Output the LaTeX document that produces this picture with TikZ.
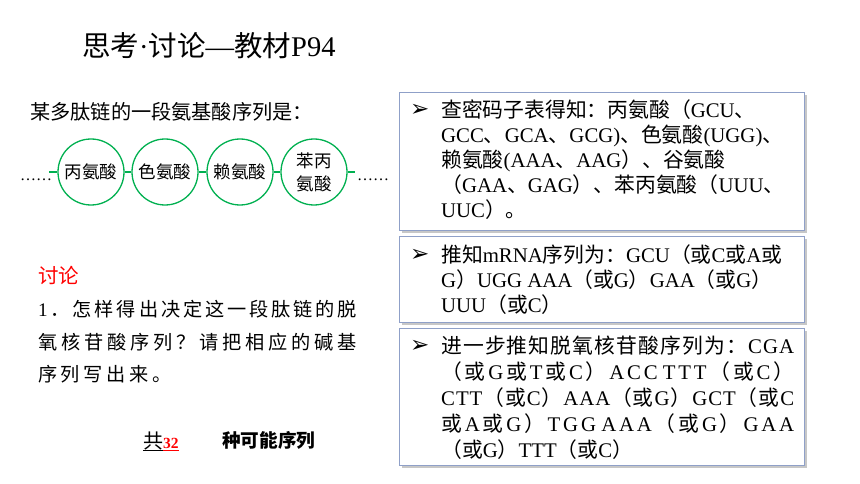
\documentclass[tikz,border=0pt]{standalone}
\usepackage{fontspec}
\setmainfont{Liberation Serif}
\newfontfamily\zh{Noto Sans CJK SC}
\newfontfamily\dv{DejaVu Sans}
\usetikzlibrary{shadows}
\definecolor{pgreen}{RGB}{0,176,80}
\definecolor{bordc}{RGB}{143,160,200}
% automatic CJK font switching
\XeTeXinterchartokenstate=1
\newXeTeXintercharclass\zhcls
\newcount\cc
\cc="3000 \loop \XeTeXcharclass\cc=\zhcls \ifnum\cc<"303F \advance\cc by 1 \repeat
\cc="4E00 \loop \XeTeXcharclass\cc=\zhcls \ifnum\cc<"9FFF \advance\cc by 1 \repeat
\cc="FF00 \loop \XeTeXcharclass\cc=\zhcls \ifnum\cc<"FFEF \advance\cc by 1 \repeat
\def\zhglue{}
\def\mainf{\rmfamily}
\XeTeXinterchartoks 0 \zhcls = {\zhglue\zh}
\XeTeXinterchartoks 4095 \zhcls = {\zh}
\XeTeXinterchartoks \zhcls 0 = {\mainf\zhglue}
\XeTeXinterchartoks \zhcls 4095 = {\mainf}
\XeTeXinterchartoks \zhcls \zhcls = {\zhglue}
\XeTeXinterchartoks 0 0 = {\zhglue}
\newcommand\fs[2]{\fontsize{#1}{#2}\selectfont}
\newcommand\jl[1]{\hbox to 353pt{\def\zhglue{\hskip 0pt plus 1fil}#1}}
\newcommand\ql[1]{\hbox to 319pt{\def\zhglue{\hskip 0pt plus 1fil}#1}}
\tikzset{
  ring/.style={circle, draw=pgreen, line width=1.3pt, minimum size=66pt, inner sep=0pt, font=\fs{17.5}{23}, align=center},
  link/.style={draw=pgreen, line width=1.3pt},
  txt/.style={anchor=base west, inner sep=0pt},
  boxst/.style={rectangle, draw=bordc, line width=1.1pt, fill=white, inner sep=0pt, anchor=north west,
    drop shadow={shadow xshift=2pt, shadow yshift=-2pt, fill=black, opacity=0.22}},
  bul/.style={anchor=base west, inner sep=0pt, font=\dv\fs{23}{24}},
  boxtxt/.style={anchor=base west, inner sep=0pt, font=\fs{20.8}{25}}
}
\begin{document}
\begin{tikzpicture}[x=1pt,y=1pt]
\fill[white] (0,0) rectangle (860,-484);
\useasboundingbox (0,0) rectangle (860,-484);
% title
\node[txt, font=\fs{28.5}{32}] (title) at (82,-57) {思考·讨论—教材P94};
\node[txt, font=\fs{20.2}{24}] (intro) at (30,-120) {某多肽链的一段氨基酸序列是：};
% chain
\node[ring] (c1) at (91,-172) {丙氨酸};
\node[ring] (c2) at (165,-172) {色氨酸};
\node[ring] (c3) at (240,-172) {赖氨酸};
\node[ring] (c4) at (314,-172) {苯丙\\氨酸};
\coordinate (sl) at (49,-172);
\coordinate (sr) at (355,-172);
\draw[link] (sl) -- (c1.west);
\draw[link] (c1.east) -- (c2.west);
\draw[link] (c2.east) -- (c3.west);
\draw[link] (c3.east) -- (c4.west);
\draw[link] (c4.east) -- (sr);
\node[txt, font=\fs{16}{18}] (dl) at (20,-181) {……};
\node[txt, font=\fs{16}{18}] (dr) at (357,-181) {……};
% discussion
\node[txt, text=red, font=\fs{20.5}{24}] (disc) at (38,-283) {讨论};
\node[txt, font=\fs{19.2}{32.5}] (q) at (38,-316.5) {\vtop{\ql{1．怎样得出决定这一段肽链的脱}\ql{氧核苷酸序列？请把相应的碱基}\hbox{\def\zhglue{\hskip 3.6pt}序列写出来。}}};
\node[txt, font=\fs{20}{24}] (gong) at (143,-448.5) {共};
\node[txt, font=\fs{15.5}{16}\bfseries, text=red] (n32) at (163,-448.5) {32};
\draw[line width=0.8pt] (gong.base west) ++(0,-1.5) -- ++(20,0);
\draw[red, line width=0.8pt] (n32.base west) ++(0,-1.5) -- ++(16,0);
\node[txt, font=\fs{18.6}{22}\bfseries] (kinds) at (222,-447) {种可能序列};
% boxes
\node[boxst, minimum width=405pt, minimum height=138pt] (b1) at (399,-92) {};
\node[boxst, minimum width=405pt, minimum height=86pt] (b2) at (399,-236) {};
\node[boxst, minimum width=405pt, minimum height=137pt] (b3) at (399,-328) {};
\node[bul] (k1) at (410,-117) {➢};
\node[bul] (k2) at (410,-261) {➢};
\node[bul] (k3) at (410,-352) {➢};
\node[boxtxt] (t1) at (441,-118) {\vtop{\hbox{查密码子表得知：丙氨酸（GCU、}\hbox{GCC、GCA、GCG)、色氨酸(UGG)、}\hbox{赖氨酸(AAA、AAG）、谷氨酸}\hbox{（GAA、GAG）、苯丙氨酸（UUU、}\hbox{UUC）。}}};
\node[boxtxt] (t2) at (441,-262) {\vtop{\hbox{推知mRNA序列为：GCU（或C或A或}\hbox{G）UGG AAA（或G）GAA（或G）}\hbox{UUU（或C）}}};
\node[boxtxt, font=\fs{20.8}{26.2}] (t3) at (441,-353) {\vtop{\jl{进一步推知脱氧核苷酸序列为：CGA}\jl{（或G或T或C）ACC TTT（或C）}\jl{CTT（或C）AAA（或G）GCT（或C}\jl{或A或G）TGG AAA（或G）GAA}\hbox{（或G）TTT（或C）}}};
\end{tikzpicture}
\end{document}
